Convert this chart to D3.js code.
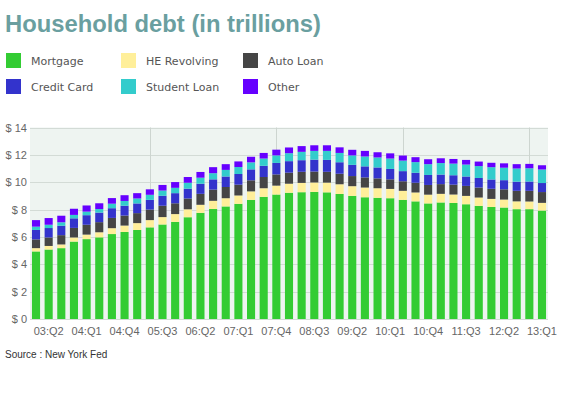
<!DOCTYPE html>
<html lang="en">
  <head>
    <meta charset="utf-8" />
    <title>Household debt</title>
    <script type="text/javascript" src="https://d3js.org/d3.v7.min.js"></script>
    <style>
      body { margin: 0; background: #fff; }
    </style>
  </head>
  <body>
    <script type="text/javascript">
      // Layout
      const WIDTH = 569;
      const HEIGHT = 398;
      const PLOT = { left: 30, right: 548, top: 127.5, bottom: 319 };

      // Data (trillions of dollars)
      const quarters = [
        "03:Q1", "03:Q2", "03:Q3", "03:Q4", "04:Q1", "04:Q2", "04:Q3", "04:Q4",
        "05:Q1", "05:Q2", "05:Q3", "05:Q4", "06:Q1", "06:Q2", "06:Q3", "06:Q4",
        "07:Q1", "07:Q2", "07:Q3", "07:Q4", "08:Q1", "08:Q2", "08:Q3", "08:Q4",
        "09:Q1", "09:Q2", "09:Q3", "09:Q4", "10:Q1", "10:Q2", "10:Q3", "10:Q4",
        "11:Q1", "11:Q2", "11:Q3", "11:Q4", "12:Q1", "12:Q2", "12:Q3", "12:Q4",
        "13:Q1",
      ];
      const mortgage = [
        4.94, 5.08, 5.18, 5.66, 5.84, 5.97, 6.21, 6.36, 6.51, 6.70, 6.91, 7.10,
        7.44, 7.76, 8.04, 8.23, 8.42, 8.71, 8.93, 9.10, 9.23, 9.27, 9.29, 9.26,
        9.14, 9.00, 8.90, 8.86, 8.83, 8.71, 8.60, 8.45, 8.52, 8.48, 8.39, 8.27,
        8.19, 8.15, 8.03, 8.03, 7.93,
      ];
      const heRevolving = [
        0.24, 0.26, 0.27, 0.30, 0.33, 0.37, 0.43, 0.47, 0.50, 0.53, 0.54, 0.57,
        0.58, 0.59, 0.60, 0.60, 0.61, 0.62, 0.63, 0.65, 0.66, 0.68, 0.69, 0.71,
        0.71, 0.71, 0.71, 0.70, 0.68, 0.66, 0.65, 0.64, 0.63, 0.62, 0.61, 0.61,
        0.59, 0.58, 0.57, 0.56, 0.56,
      ];
      const autoLoan = [
        0.64, 0.62, 0.68, 0.70, 0.72, 0.74, 0.75, 0.73, 0.73, 0.77, 0.83, 0.79,
        0.79, 0.80, 0.82, 0.82, 0.79, 0.81, 0.82, 0.82, 0.81, 0.81, 0.80, 0.79,
        0.77, 0.74, 0.74, 0.72, 0.70, 0.70, 0.71, 0.71, 0.71, 0.72, 0.73, 0.73,
        0.74, 0.75, 0.77, 0.78, 0.79,
      ];
      const creditCard = [
        0.69, 0.69, 0.69, 0.70, 0.70, 0.70, 0.71, 0.72, 0.71, 0.71, 0.73, 0.74,
        0.72, 0.74, 0.75, 0.77, 0.78, 0.80, 0.82, 0.84, 0.84, 0.85, 0.87, 0.87,
        0.84, 0.82, 0.81, 0.80, 0.76, 0.74, 0.73, 0.73, 0.70, 0.69, 0.69, 0.70,
        0.68, 0.67, 0.67, 0.68, 0.66,
      ];
      const studentLoan = [
        0.24, 0.24, 0.25, 0.25, 0.26, 0.26, 0.33, 0.35, 0.36, 0.37, 0.38, 0.39,
        0.43, 0.44, 0.45, 0.48, 0.51, 0.51, 0.53, 0.55, 0.58, 0.61, 0.64, 0.66,
        0.68, 0.69, 0.72, 0.73, 0.76, 0.77, 0.78, 0.79, 0.84, 0.85, 0.87, 0.87,
        0.90, 0.91, 0.96, 0.97, 0.99,
      ];
      const other = [
        0.48, 0.49, 0.48, 0.45, 0.45, 0.42, 0.41, 0.42, 0.39, 0.40, 0.41, 0.42,
        0.42, 0.42, 0.44, 0.42, 0.41, 0.41, 0.41, 0.42, 0.42, 0.42, 0.41, 0.41,
        0.41, 0.41, 0.41, 0.38, 0.38, 0.37, 0.36, 0.36, 0.35, 0.34, 0.34, 0.33,
        0.32, 0.32, 0.32, 0.32, 0.31,
      ];
      const seriesNames = ["Mortgage", "HE Revolving", "Auto Loan", "Credit Card", "Student Loan", "Other"];
      const seriesColors = ["#33cc33", "#ffef9a", "#454545", "#3333cc", "#33cccc", "#6600ff"];
      const yTicks = [0, 2, 4, 6, 8, 10, 12, 14];

      // Build rows for d3.stack
      const columns = [mortgage, heRevolving, autoLoan, creditCard, studentLoan, other];
      const rows = quarters.map((q, i) => {
        const r = { quarter: q };
        seriesNames.forEach((name, k) => (r[name] = columns[k][i]));
        return r;
      });
      const stacked = d3.stack().keys(seriesNames)(rows);

      const svg = d3
        .select("body")
        .append("svg")
        .attr("width", WIDTH)
        .attr("height", HEIGHT)
        .style("font-family", "'Liberation Sans', Arial, sans-serif");

      // Title
      svg
        .append("text")
        .attr("x", 5)
        .attr("y", 32)
        .attr("fill", "#6a9fa0")
        .attr("font-size", 23.8)
        .attr("font-weight", "bold")
        .text("Household debt (in trillions)");

      // Legend: 3 columns, 2 rows (row-major order)
      const legendX = [6, 121, 243];
      const legendY = [53, 79];
      const legend = svg
        .selectAll(".legend")
        .data(seriesNames)
        .enter()
        .append("g")
        .attr("class", "legend")
        .attr("transform", (d, i) => "translate(" + legendX[i % 3] + "," + legendY[Math.floor(i / 3)] + ")");
      legend
        .append("rect")
        .attr("width", 15)
        .attr("height", 15)
        .attr("fill", (d, i) => seriesColors[i]);
      legend
        .append("text")
        .attr("x", 25)
        .attr("y", 12)
        .attr("font-family", "'DejaVu Sans', Verdana, sans-serif")
        .attr("font-size", 11)
        .attr("fill", "#555")
        .text((d) => d);

      // Scales
      const x = d3
        .scaleBand()
        .domain(quarters)
        .range([PLOT.left, PLOT.right])
        .paddingInner(0.36)
        .paddingOuter(0.155);
      const y = d3.scaleLinear().domain([0, 14]).range([PLOT.bottom, PLOT.top]);

      // Plot background
      svg
        .append("rect")
        .attr("x", PLOT.left)
        .attr("y", PLOT.top)
        .attr("width", PLOT.right - PLOT.left)
        .attr("height", PLOT.bottom - PLOT.top)
        .attr("fill", "#eef4f1");

      // Horizontal gridlines
      svg
        .append("g")
        .selectAll("line")
        .data(yTicks)
        .enter()
        .append("line")
        .attr("x1", PLOT.left)
        .attr("x2", PLOT.right)
        .attr("y1", (d) => Math.round(y(d)) + 0.5)
        .attr("y2", (d) => Math.round(y(d)) + 0.5)
        .attr("stroke", "#d3dbd6");

      // Vertical gridlines every 10 quarters
      const vQuarters = quarters.filter((q, i) => i % 10 === 9);
      svg
        .append("g")
        .selectAll("line")
        .data(vQuarters)
        .enter()
        .append("line")
        .attr("x1", (d) => Math.round(x(d) + x.bandwidth() / 2) + 0.5)
        .attr("x2", (d) => Math.round(x(d) + x.bandwidth() / 2) + 0.5)
        .attr("y1", PLOT.top)
        .attr("y2", PLOT.bottom)
        .attr("stroke", "#cdd5d0");

      // Stacked bars
      svg
        .append("g")
        .selectAll("g")
        .data(stacked)
        .enter()
        .append("g")
        .attr("fill", (d, i) => seriesColors[i])
        .selectAll("rect")
        .data((d) => d)
        .enter()
        .append("rect")
        .attr("x", (d) => x(d.data.quarter))
        .attr("width", x.bandwidth())
        .attr("y", (d) => y(d[1]))
        .attr("height", (d) => y(d[0]) - y(d[1]));

      // Y axis labels
      const yAxis = svg
        .append("g")
        .attr("transform", "translate(" + (PLOT.left - 3) + ",0)")
        .call(
          d3
            .axisLeft(y)
            .tickValues(yTicks)
            .tickSize(0)
            .tickPadding(0)
            .tickFormat((d) => "$ " + d)
        );
      yAxis.select(".domain").remove();
      yAxis
        .selectAll("text")
        .attr("font-family", "'Liberation Sans', Arial, sans-serif")
        .attr("font-size", 11)
        .attr("fill", "#666");

      // X axis labels, every third quarter
      const xAxis = svg
        .append("g")
        .attr("transform", "translate(0," + PLOT.bottom + ")")
        .call(
          d3
            .axisBottom(x)
            .tickValues(quarters.filter((q, i) => i % 3 === 1))
            .tickSize(0)
            .tickPadding(8)
        );
      xAxis.select(".domain").remove();
      xAxis
        .selectAll("text")
        .attr("font-family", "'Liberation Sans', Arial, sans-serif")
        .attr("font-size", 11)
        .attr("fill", "#666");

      // Source note
      svg
        .append("text")
        .attr("x", 5)
        .attr("y", 358)
        .attr("font-size", 10)
        .attr("fill", "#333")
        .text("Source : New York Fed");
    </script>
  </body>
</html>
